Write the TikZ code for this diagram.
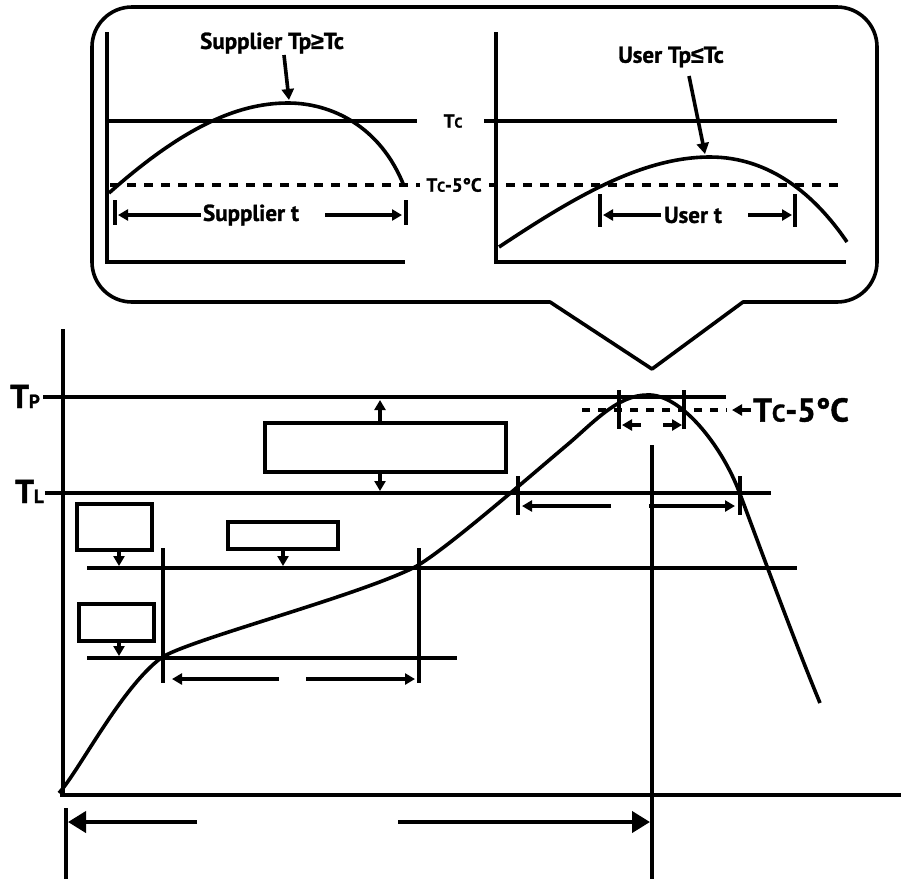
\documentclass[tikz,border=0pt]{standalone}
\usepackage{fontspec}
\setmainfont{PT Sans}[BoldFeatures={FakeBold=1.2}]
\newfontfamily\symf{Liberation Sans}[FakeBold=1.2]
\usetikzlibrary{arrows.meta}
\begin{document}
\begin{tikzpicture}[x=1pt,y=-1pt,
  ln/.style={line width=4pt},
  cv/.style={line width=3.6pt, line join=round},
  thinln/.style={line width=3.4pt},
  dsh/.style={line width=3.6pt, dash pattern=on 9pt off 8pt},
  box/.style={draw, line width=3.6pt, inner sep=0pt},
  sarr/.style={line width=3.6pt,-{Triangle[length=10pt,width=11pt]}},
  marr/.style={line width=3.6pt,-{Triangle[length=11pt,width=12pt]}},
  barr/.style={line width=4pt,-{Triangle[length=18pt,width=21pt]}},
  fs/.style={font=\bfseries\fontsize{#1}{#1}\selectfont}
]
\useasboundingbox (0,0) rectangle (901,879);

% ---------- callout ----------
\draw[line width=3.6pt, line join=round]
  (550,302) -- (652,369) -- (743,302)
  [rounded corners=40pt] -- (877,302) -- (877,7) -- (92,7) -- (92,302) [sharp corners] -- cycle;

% ---------- inner left plot ----------
\draw[ln] (107,32) -- (107,262) -- (405,262);
\draw[ln] (107,121) -- (417,121);
\draw[dsh] (110,185) -- (420,185);
\draw[cv] (109,193) .. controls (180,130) and (235,103) .. (288,103)
                    .. controls (330,103) and (380,125) .. (404,186);
\node[inner sep=0pt, fs=23] (supl) at (272,43) {Supplier Tp{\symf ≥}Tc};
\coordinate (suplpk) at (289,100);
\draw[marr] (284,55) -- (suplpk);
\draw[ln] (115,200) -- (115,225);
\draw[ln] (406,200) -- (406,225);
\node[inner sep=0pt, fs=23] (supt) at (251,215) {Supplier t};
\draw[sarr] (supt.west) ++(-2,0) -- (118,215);
\draw[sarr] (325,215) -- (402,215);

% ---------- middle labels ----------
\node[inner sep=0pt, font=\bfseries\fontsize{19}{19}\selectfont] (tcin) at (453,121)
  {T{\fontsize{14}{14}\selectfont C}};
\node[inner sep=0pt, font=\bfseries\fontsize{19}{19}\selectfont] (tc5in) at (454,185)
  {T{\fontsize{14}{14}\selectfont C}-5°C};

% ---------- inner right plot ----------
\draw[ln] (496,32) -- (496,262) -- (846,262);
\draw[ln] (484,121) -- (837,121);
\draw[dsh] (489,185) -- (840,185);
\draw[cv] (499,247) .. controls (570,200) and (640,157) .. (710,157)
                    .. controls (770,157) and (815,195) .. (847,242);
\node[inner sep=0pt, fs=23] (user) at (671,57) {User Tp{\symf ≤}Tc};
\coordinate (userpk) at (705,154);
\draw[marr] (689,76) -- (userpk);
\draw[ln] (600,194) -- (600,227);
\draw[ln] (795,194) -- (795,227);
\node[inner sep=0pt, fs=23] (usert) at (693,215) {User t};
\draw[sarr] (usert.west) ++(-3,0) -- (603,215);
\draw[sarr] (748,215) -- (792,215);

% ---------- main axes ----------
\draw[ln] (63,329) -- (63,795);
\draw[ln] (60,795) -- (901,795);
\node[inner sep=0pt, font=\bfseries\fontsize{33}{33}\selectfont, anchor=base west] (TP) at (10,408)
  {T{\fontsize{19}{19}\selectfont P}};
\node[inner sep=0pt, font=\bfseries\fontsize{33}{33}\selectfont, anchor=base west] (TL) at (15,503)
  {T{\fontsize{19}{19}\selectfont L}};
\draw[ln] (TP.east |- 0,397) ++(3,0) -- (726,397);
\draw[ln] (TL.east |- 0,493) ++(1,0) -- (771,493);
\draw[thinln] (87,568) -- (797,568);
\draw[thinln] (87,658) -- (457,658);

% ---------- boxes ----------
\node[box, minimum width=241pt, minimum height=49pt] (b1) at (385.5,447.5) {};
\node[box, minimum width=75pt, minimum height=46pt] (bA) at (114.5,527) {};
\node[box, minimum width=110pt, minimum height=27pt] (bB) at (283,535.5) {};
\node[box, minimum width=75pt, minimum height=37pt] (bC) at (116.5,622.5) {};
\draw[sarr] (b1.north -| 380,0) -- (380,400);
\draw[sarr] (b1.south -| 380,0) -- (380,491);
\draw[sarr] (bA.south -| 119,0) -- (119,566);
\draw[sarr] (bB.south -| 283,0) -- (283,566);
\draw[sarr] (bC.south -| 119,0) -- (119,656);

% ---------- main curve ----------
\draw[cv] (59,793) .. controls (79,771) and (121,688) .. (161,658)
          .. controls (186,640.5) and (355,597) .. (415,567)
          .. controls (445,550.5) and (532,474.4) .. (567,445)
          .. controls (592,424) and (617,395) .. (647,395)
          .. controls (680,393) and (722,445) .. (740,494)
          .. controls (755,534) and (795,643) .. (820,703);

% ---------- soak ticks and arrows ----------
\draw[ln] (163,548) -- (163,683);
\draw[ln] (419,548) -- (419,683);
\draw[sarr] (279,679) -- (172,679);
\draw[sarr] (306,679) -- (415,679);

% ---------- TL ticks ----------
\draw[ln] (518,476) -- (518,515);
\draw[ln] (740,476) -- (740,515);
\draw[sarr] (611,506) -- (522,506);
\draw[sarr] (649,506) -- (735,506);

% ---------- peak ----------
\draw[ln] (619,390) -- (619,429);
\draw[ln] (684,390) -- (684,429);
\draw[line width=3.6pt, dash pattern=on 8pt off 8pt] (582,410) -- (727,410);
\node[inner sep=0pt, font=\bfseries\fontsize{33}{33}\selectfont, anchor=west] (tc5) at (753,410)
  {T{\fontsize{24}{24}\selectfont C}-5°C};
\draw[sarr] (tc5.west) ++(-2,0) -- (732,410);
\draw[sarr] (641,425) -- (622,425);
\draw[sarr] (663,425) -- (682,425);

% ---------- vertical time line and bottom arrows ----------
\draw[ln] (652,445) -- (652,879);
\draw[ln] (66,808) -- (66,879);
\draw[barr] (197,822) -- (68,822);
\draw[barr] (398,822) -- (650,822);
\end{tikzpicture}
\end{document}
